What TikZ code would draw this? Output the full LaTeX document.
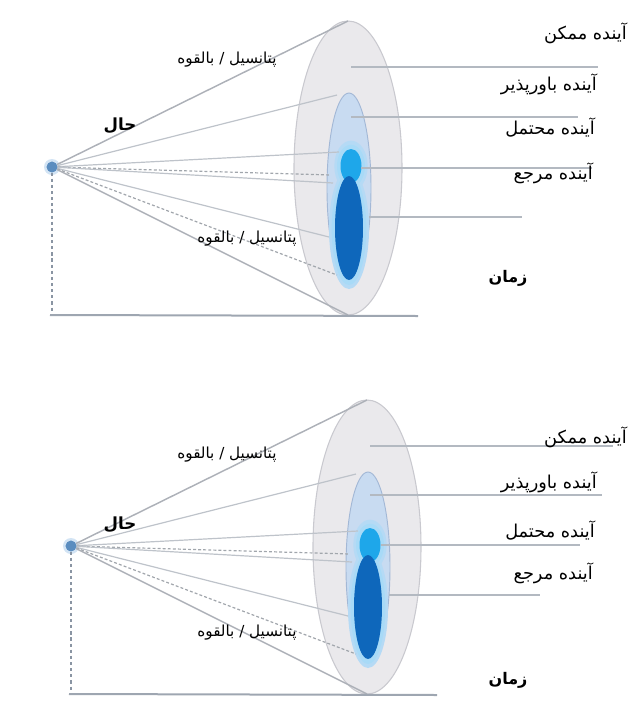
\documentclass[tikz,border=0pt]{standalone}
\usepackage{fontspec}
\newfontfamily\arabicfont[Script=Arabic]{DejaVu Sans}
\TeXXeTstate=1
\usetikzlibrary{shapes.geometric}

\definecolor{outerfill}{HTML}{EAE9EC}
\definecolor{outerdraw}{HTML}{C9C9CF}
\definecolor{midfill}{HTML}{C8DBF1}
\definecolor{middraw}{HTML}{A3B8D6}
\definecolor{halo}{HTML}{A8DAF7}
\definecolor{cyanblue}{HTML}{1EA7EA}
\definecolor{darkblue}{HTML}{0E67BB}
\definecolor{raygrey}{HTML}{BEC3CA}
\definecolor{toprayg}{HTML}{ADB1B8}
\definecolor{labgrey}{HTML}{B3B9C1}
\definecolor{baseg}{HTML}{9EA6B1}
\definecolor{vdashg}{HTML}{8A95A3}
\definecolor{apexc}{HTML}{5B8DBF}
\definecolor{apexglow}{HTML}{D3E4F4}

\tikzset{
  ell/.style={ellipse, inner sep=0pt, outer sep=0pt},
  ray/.style={draw=raygrey, line width=0.9pt},
  edgeray/.style={draw=toprayg, line width=1.1pt},
  dray/.style={draw=raygrey!85!black, line width=0.9pt, dash pattern=on 2.2pt off 1.6pt},
  vdash/.style={draw=vdashg, line width=1.4pt, dash pattern=on 2.4pt off 2.2pt},
  baseline/.style={draw=baseg, line width=1.5pt},
  labline/.style={draw=labgrey, line width=0.9pt},
  lab/.style={font=\arabicfont\fontsize{13.3}{15}\selectfont, inner sep=0pt, anchor=east},
  blab/.style={font=\arabicfont\bfseries\fontsize{12.5}{14}\selectfont, inner sep=0pt},
  tlab/.style={font=\arabicfont\bfseries\fontsize{12}{14}\selectfont, inner sep=0pt},
  clab/.style={font=\arabicfont\fontsize{11.4}{13}\selectfont, inner sep=0pt},
  apexdot/.style={circle, fill=apexc, inner sep=0pt, minimum size=8pt},
  panel/.pic={
    % outer cone base
    \node[ell, fill=outerfill, draw=outerdraw, line width=0.8pt,
          minimum width=81pt, minimum height=220.5pt] (-outer) at (348,168) {};
    \node[ell, fill=midfill, draw=middraw, line width=0.7pt,
          minimum width=33pt, minimum height=142.5pt] (-mid) at (349,188) {};
    \node[ell, fill=halo!60!midfill, minimum width=25pt, minimum height=38pt] at (351,166) {};
    \node[ell, fill=halo!60!midfill, minimum width=30pt, minimum height=90pt] at (349,229) {};
    \node[ell, fill=halo, minimum width=21pt, minimum height=32pt] (-cyhalo) at (351,166) {};
    \node[ell, fill=halo, minimum width=26pt, minimum height=84pt] (-dkhalo) at (349,229) {};
    \node[ell, fill=cyanblue, minimum width=15.75pt, minimum height=25.5pt] (-cyan) at (351,166) {};
    \node[ell, fill=darkblue, minimum width=21pt, minimum height=78pt] (-dark) at (349,228) {};
    % ray end points
    \coordinate (-r2) at (337,95);
    \coordinate (-r3) at (339,152);
    \coordinate (-r4) at (331,175);
    \coordinate (-r5) at (333,183);
    \coordinate (-r6) at (329,237);
    \coordinate (-r7) at (337,275);
    \coordinate (-vb) at (52,312);
    \coordinate (-b0) at (50,315);
    \coordinate (-b1) at (418,316);
    % apex
    \node[circle, fill=apexglow, inner sep=0pt, minimum size=12pt] (-glow) at (52,167) {};
    \node[apexdot] (-apex) at (52,167) {};
    % rays
    \draw[edgeray] (-apex) -- (-outer.north);
    \draw[ray] (-apex) -- (-r2);
    \draw[ray] (-apex) -- (-r3);
    \draw[dray] (-apex) -- (-r4);
    \draw[ray] (-apex) -- (-r5);
    \draw[ray] (-apex) -- (-r6);
    \draw[dray] (-apex) -- (-r7);
    \draw[edgeray] (-apex) -- (-outer.south);
    % axes
    \draw[vdash] (-apex.south) -- (-vb);
    \draw[baseline] (-b0) -- (-b1);
    \node[apexdot] at (-apex) {};
  }
}

\begin{document}
\begin{tikzpicture}[x=0.75pt, y=-0.75pt]
  \useasboundingbox (0,0) rectangle (629,726);

  % ---------- top panel ----------
  \pic (T) at (0,0) {panel};
  \coordinate (T1a) at (351,67);  \coordinate (T1b) at (598,67);
  \coordinate (T2a) at (351,117); \coordinate (T2b) at (578,117);
  \coordinate (T3a) at (361,168); \coordinate (T3b) at (592,168);
  \coordinate (T4a) at (369,217); \coordinate (T4b) at (522,217);
  \draw[labline] (T1a) -- (T1b);
  \draw[labline] (T2a) -- (T2b);
  \draw[labline] (T3a) -- (T3b);
  \draw[labline] (T4a) -- (T4b);

  \node[lab] (Tl1) at (627,33) {\beginR آینده ممکن\endR};
  \node[lab] (Tl2) at (597,84) {\beginR آینده باورپذیر\endR};
  \node[lab] (Tl3) at (595,128) {\beginR آینده محتمل\endR};
  \node[lab] (Tl4) at (593,173) {\beginR آینده مرجع\endR};
  \node[blab] (Tnow) at (120,126) {\beginR حال\endR};
  \node[clab] (Tpot1) at (227,60) {\beginR پتانسیل / بالقوه\endR};
  \node[clab] (Tpot2) at (247,239) {\beginR پتانسیل / بالقوه\endR};
  \node[tlab] (Ttime) at (508,278) {\beginR زمان\endR};

  % ---------- bottom panel ----------
  \pic (B) at (19,379) {panel};
  \coordinate (B1a) at (370,446); \coordinate (B1b) at (613,446);
  \coordinate (B2a) at (370,495); \coordinate (B2b) at (602,495);
  \coordinate (B3a) at (381,545); \coordinate (B3b) at (580,545);
  \coordinate (B4a) at (389,595); \coordinate (B4b) at (540,595);
  \draw[labline] (B1a) -- (B1b);
  \draw[labline] (B2a) -- (B2b);
  \draw[labline] (B3a) -- (B3b);
  \draw[labline] (B4a) -- (B4b);

  \node[lab] (Bl1) at (627,437) {\beginR آینده ممکن\endR};
  \node[lab] (Bl2) at (597,482) {\beginR آینده باورپذیر\endR};
  \node[lab] (Bl3) at (595,531) {\beginR آینده محتمل\endR};
  \node[lab] (Bl4) at (593,573) {\beginR آینده مرجع\endR};
  \node[blab] (Bnow) at (120,525) {\beginR حال\endR};
  \node[clab] (Bpot1) at (227,455) {\beginR پتانسیل / بالقوه\endR};
  \node[clab] (Bpot2) at (247,633) {\beginR پتانسیل / بالقوه\endR};
  \node[tlab] (Btime) at (508,680) {\beginR زمان\endR};
\end{tikzpicture}
\end{document}
